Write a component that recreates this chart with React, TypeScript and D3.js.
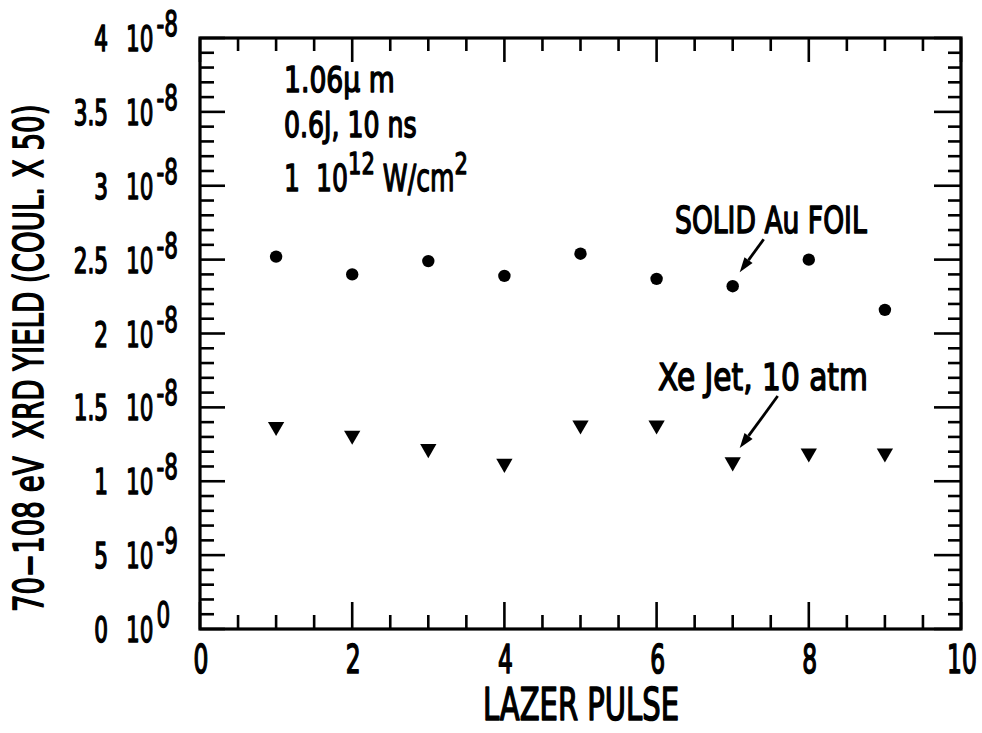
import * as d3 from "d3";
import type { ReactNode } from "react";

// laser pulse number and XRD yield (coulombs x 50)
const pulses = [1, 2, 3, 4, 5, 6, 7, 8, 9];
const auFoil = [2.52e-8, 2.4e-8, 2.49e-8, 2.39e-8, 2.54e-8, 2.37e-8, 2.32e-8, 2.5e-8, 2.16e-8];
const xeJet = [1.37e-8, 1.31e-8, 1.22e-8, 1.12e-8, 1.38e-8, 1.38e-8, 1.13e-8, 1.19e-8, 1.19e-8];

const xTicks = [0, 2, 4, 6, 8, 10];
const yTicks = [0, 0.5e-8, 1e-8, 1.5e-8, 2e-8, 2.5e-8, 3e-8, 3.5e-8, 4e-8];
const yTickMantissa = ["0", "5", "1", "1.5", "2", "2.5", "3", "3.5", "4"];
const yTickExponent = ["0", "-9", "-8", "-8", "-8", "-8", "-8", "-8", "-8"];

const FONT = "'DejaVu Sans', 'Liberation Sans', sans-serif";
const W = 982;
const H = 733;
const plot = { left: 200, right: 961, top: 38, bottom: 629 };

// condensed lettering: squeeze DejaVu horizontally, thicken with a screen-space stroke
const Lab = ({
  x,
  y,
  sx,
  size,
  anchor = "start",
  rotate = 0,
  children,
}: {
  x: number;
  y: number;
  sx: number;
  size: number;
  anchor?: string;
  rotate?: number;
  children: ReactNode;
}) => (
  <text
    transform={`translate(${x},${y}) rotate(${rotate}) scale(${sx},1)`}
    textAnchor={anchor}
    fontSize={size}
    fontFamily={FONT}
    fill="#000"
    stroke="#000"
    strokeWidth={1.4}
    strokeLinejoin="round"
    vectorEffect="non-scaling-stroke"
    style={{ whiteSpace: "pre" }}
  >
    {children}
  </text>
);

export default function App() {
  const x = d3.scaleLinear().domain([0, 10]).range([plot.left, plot.right]);
  const y = d3.scaleLinear().domain([0, 4e-8]).range([plot.bottom, plot.top]);

  const xMinor = d3.range(0, 10.001, 0.5);
  const yMinor = d3.range(0, 4.0001e-8, 0.1e-8);
  const isMajorX = (v: number) => Math.abs(v / 2 - Math.round(v / 2)) < 1e-6;
  const isMajorY = (v: number) => Math.abs(v / 0.5e-8 - Math.round(v / 0.5e-8)) < 1e-6;

  const tri = d3.symbol().type(d3.symbolTriangle).size(115);

  // arrows point at the pulse 7 markers
  const arrow = (px: number, py: number, dx: number, dy: number) => {
    const tipX = px + 7;
    const tipY = py - 14;
    const len = Math.hypot(dx, dy);
    const ux = -dx / len;
    const uy = -dy / len;
    const hl = 15;
    const hw = 5;
    const bx = tipX - ux * hl;
    const by = tipY - uy * hl;
    const head = `M${tipX},${tipY}L${bx - uy * hw},${by + ux * hw}L${bx + uy * hw},${by - ux * hw}Z`;
    return (
      <g>
        <line x1={tipX + dx} y1={tipY + dy} x2={bx} y2={by} stroke="#000" strokeWidth={2.8} />
        <path d={head} fill="#000" />
      </g>
    );
  };

  return (
    <svg width={W} height={H} style={{ position: "absolute", left: 0, top: 0, background: "#fff" }}>
      {/* frame */}
      <rect
        x={plot.left}
        y={plot.top}
        width={plot.right - plot.left}
        height={plot.bottom - plot.top}
        fill="none"
        stroke="#000"
        strokeWidth={3.2}
      />

      {/* x ticks bottom + top */}
      {xMinor.map((v) => (
        <g key={`xt${v}`} stroke="#000" strokeWidth={2.6}>
          <line x1={x(v)} x2={x(v)} y1={plot.bottom} y2={plot.bottom - (isMajorX(v) ? 27 : 14)} />
          <line x1={x(v)} x2={x(v)} y1={plot.top} y2={plot.top + (isMajorX(v) ? 24 : 13)} />
        </g>
      ))}

      {/* y ticks left + right */}
      {yMinor.map((v) => (
        <g key={`yt${v}`} stroke="#000" strokeWidth={2.6}>
          <line x1={plot.left} x2={plot.left + (isMajorY(v) ? 25 : 14)} y1={y(v)} y2={y(v)} />
          <line x1={plot.right} x2={plot.right - (isMajorY(v) ? 27 : 13)} y1={y(v)} y2={y(v)} />
        </g>
      ))}

      {/* x tick labels */}
      {xTicks.map((v) => (
        <Lab key={`xl${v}`} x={x(v) + 1} y={673} sx={0.6} size={39} anchor="middle">
          {v}
        </Lab>
      ))}

      {/* y tick labels */}
      {yTicks.map((v, i) => (
        <g key={`yl${v}`}>
          <Lab x={108} y={y(v) + 13} sx={0.6} size={36} anchor="end">
            {yTickMantissa[i]}
          </Lab>
          <Lab x={126} y={y(v) + 13} sx={0.6} size={36}>
            <tspan>10</tspan>
            <tspan dx={5} dy={-15} fontSize={36}>
              {yTickExponent[i]}
            </tspan>
          </Lab>
        </g>
      ))}

      {/* axis titles */}
      <Lab x={483} y={720} sx={0.66} size={44}>
        LAZER PULSE
      </Lab>
      <Lab x={43} y={612} sx={0.69} size={40} rotate={-90}>
        70−108 eV  XRD YIELD (COUL. X 50)
      </Lab>

      {/* conditions note */}
      <Lab x={284} y={92} sx={0.74} size={36}>
        1.06μ m
      </Lab>
      <Lab x={284} y={137} sx={0.7} size={36}>
        0.6J, 10 ns
      </Lab>
      <Lab x={284} y={191} sx={0.68} size={37}>
        <tspan>1  10</tspan>
        <tspan dy={-17} fontSize={31}>
          12
        </tspan>
        <tspan dy={17}> W/cm</tspan>
        <tspan dy={-17} fontSize={31}>
          2
        </tspan>
      </Lab>

      {/* series */}
      {pulses.map((p, i) => (
        <circle key={`au${p}`} cx={x(p)} cy={y(auFoil[i])} r={6.2} fill="#000" />
      ))}
      {pulses.map((p, i) => (
        <path
          key={`xe${p}`}
          d={tri() as string}
          transform={`translate(${x(p)},${y(xeJet[i])}) rotate(180)`}
          fill="#000"
        />
      ))}

      {/* annotations */}
      <Lab x={675} y={233} sx={0.7} size={38}>
        SOLID Au FOIL
      </Lab>
      {arrow(x(7), y(auFoil[6]), 24, -33)}
      <Lab x={658} y={390} sx={0.78} size={38}>
        Xe Jet, 10 atm
      </Lab>
      {arrow(x(7), y(xeJet[6]), 38, -52)}
    </svg>
  );
}
